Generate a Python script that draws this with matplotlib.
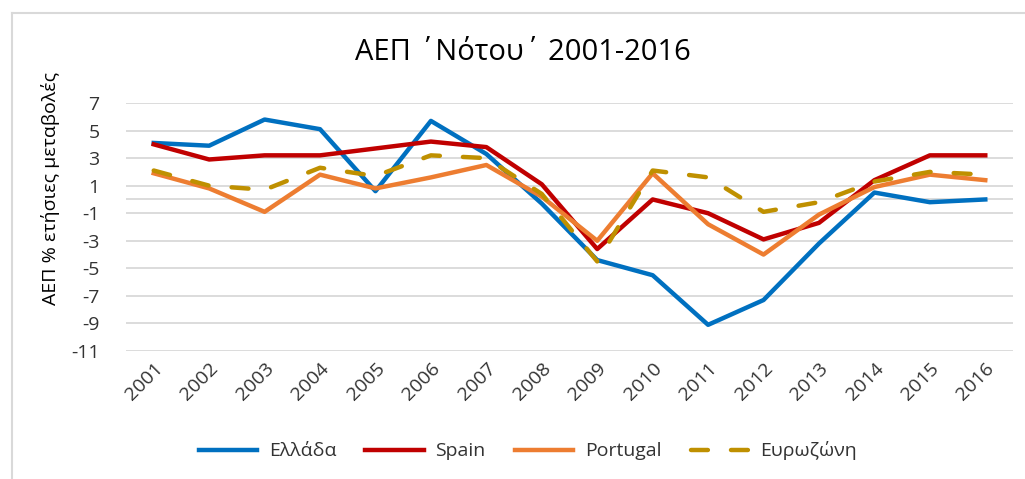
#
# ΑΕΠ 'Νότου' 2001-2016 - line chart, Excel style
#

import matplotlib
matplotlib.use("Agg")
import matplotlib.pyplot as plt
from matplotlib.lines import Line2D

plt.rcParams['font.family'] = ['Open Sans', 'DejaVu Sans']

# Data
years = ['2001', '2002', '2003', '2004', '2005', '2006', '2007', '2008',
         '2009', '2010', '2011', '2012', '2013', '2014', '2015', '2016']
greece = [4.1, 3.9, 5.8, 5.1, 0.6, 5.7, 3.3, -0.3, -4.4, -5.5, -9.1, -7.3, -3.2, 0.5, -0.2, 0.0]
spain = [4.0, 2.9, 3.2, 3.2, 3.7, 4.2, 3.8, 1.1, -3.6, 0.0, -1.0, -2.9, -1.7, 1.4, 3.2, 3.2]
portugal = [1.9, 0.8, -0.9, 1.8, 0.8, 1.6, 2.5, 0.2, -3.0, 1.9, -1.8, -4.0, -1.1, 0.9, 1.8, 1.4]
eurozone = [2.1, 1.0, 0.7, 2.3, 1.7, 3.2, 3.0, 0.4, -4.5, 2.1, 1.6, -0.9, -0.2, 1.3, 2.0, 1.8]

labels = ['Ελλάδα', 'Spain', 'Portugal', 'Ευρωζώνη']
colors = ['#0070C0', '#C00000', '#ED7D31', '#BF9000']
yticks = [7, 5, 3, 1, -1, -3, -5, -7, -9, -11]

fig = plt.figure(figsize=(10.25, 4.79), dpi=100)
W, H = 1025.0, 479.0
ax = fig.add_axes([126 / W, 1 - 351 / H, (1013 - 126) / W, (351 - 103) / H])

x = list(range(len(years)))
lw = 3.2
ax.plot(x, greece, color=colors[0], lw=lw, label=labels[0], solid_joinstyle='round')
ax.plot(x, spain, color=colors[1], lw=lw, label=labels[1], solid_joinstyle='round')
ax.plot(x, portugal, color=colors[2], lw=lw, label=labels[2], solid_joinstyle='round')
ax.plot(x, eurozone, color=colors[3], lw=lw, label=labels[3], dashes=(3.8, 5.2),
        dash_capstyle='round')

# Axes formatting
ax.set_xlim(-0.5, len(years) - 0.5)
ax.set_ylim(-11, 7)
ax.set_yticks(yticks)
ax.set_yticklabels([str(v) for v in yticks], fontsize=14, color='#333333')
ax.set_xticks(x)
ax.set_xticklabels(years, rotation=45, ha='right', va='top', rotation_mode='anchor',
                   fontsize=14, color='#333333')
ax.tick_params(axis='y', length=0, pad=19)
ax.tick_params(axis='x', length=0, pad=6)
for s in ax.spines.values():
    s.set_visible(False)
ax.grid(axis='y', color='#D9D9D9', lw=1.3)
ax.set_axisbelow(True)
ax.axhline(0, color='#D9D9D9', lw=1.3, zorder=0)

ax.set_ylabel('ΑΕΠ % ετήσιες μεταβολές', fontsize=14, color='#000000')
ax.yaxis.set_label_coords(-66 / 887.0, (351 - 188) / 248.0)

fig.text(523 / W, 1 - 53 / H, 'ΑΕΠ ΄Νότου΄ 2001-2016', ha='center', va='center',
         fontsize=21, color='#000000')

leg = fig.legend(loc='center', bbox_to_anchor=(528 / W, 1 - 451 / H), ncol=4,
                 frameon=False, fontsize=14, handlelength=3.0, columnspacing=1.5,
                 handletextpad=0.6)
for t in leg.get_texts():
    t.set_color('#333333')

# Outer chart border (cut off at right and bottom in the original)
fig.add_artist(Line2D([12 / W, 1.0], [1 - 13 / H, 1 - 13 / H], color='#D9D9D9', lw=1.5))
fig.add_artist(Line2D([12 / W, 12 / W], [0.0, 1 - 13 / H], color='#D9D9D9', lw=1.5))

plt.savefig('out.png', dpi=100)
